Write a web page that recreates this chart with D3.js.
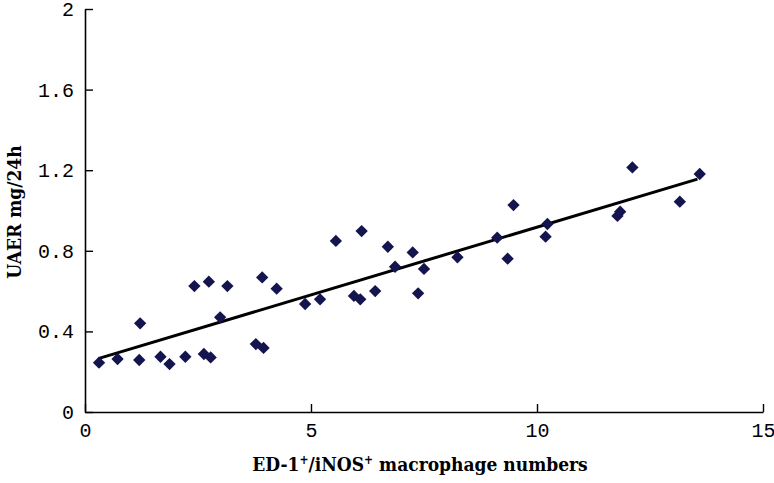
<!DOCTYPE html>
<html>
<head>
<meta charset="utf-8">
<script src="https://cdn.jsdelivr.net/npm/d3@7"></script>
<style>
body { margin: 0; background: #fff; }
</style>
</head>
<body>
<script>
// macrophage numbers (x) and UAER (y)
let xVals = [0.31, 0.72, 1.22, 1.20, 1.67, 1.87, 2.22, 2.42, 2.63, 2.78, 2.74, 3.15, 2.99,
	3.78, 3.95, 3.92, 4.24, 4.87, 5.20, 5.55, 6.12, 5.95, 6.09, 6.42, 6.70, 6.86, 7.25,
	7.37, 7.50, 8.24, 9.12, 9.35, 9.48, 10.23, 10.19, 11.84, 11.78, 12.11, 13.16, 13.60];
let yVals = [0.245, 0.263, 0.44, 0.258, 0.274, 0.238, 0.274, 0.625, 0.288, 0.271, 0.647, 0.625, 0.47,
	0.337, 0.318, 0.668, 0.612, 0.536, 0.559, 0.849, 0.898, 0.576, 0.559, 0.60, 0.82, 0.721, 0.792,
	0.589, 0.71, 0.768, 0.865, 0.761, 1.027, 0.933, 0.87, 0.994, 0.973, 1.214, 1.044, 1.181];

// trend line end points
let trendX = [0.31, 13.55];
let trendY = [0.266, 1.156];

let xTicks = [0, 5, 10, 15];
let yTicks = [0, 0.4, 0.8, 1.2, 1.6, 2];

let svg = d3.select("body").append("svg")
	.attr("width", 774)
	.attr("height", 483);

let margin = { top: 9, right: 11, bottom: 71, left: 85 };
let width = 774, height = 483;
let innerWidth = width - margin.left - margin.right;
let innerHeight = height - margin.top - margin.bottom;

let scaleX = d3.scaleLinear().domain([0, 15]).range([0, innerWidth]);
let scaleY = d3.scaleLinear().domain([0, 2]).range([innerHeight, 0]);

let g = svg.append("g")
	.attr("transform", `translate(${margin.left}, ${margin.top})`);

let tickFont = "'Liberation Mono', 'DejaVu Sans Mono', monospace";

// y axis, ticks point inward
let yAxis = d3.axisLeft(scaleY).tickValues(yTicks).tickSize(0).tickPadding(11)
	.tickFormat(d => d === 0 || d === 2 ? d3.format("d")(d) : d3.format(".1f")(d));
let yG = g.append("g").call(yAxis)
	.attr("font-family", tickFont)
	.attr("font-size", 20);
yG.select(".domain").attr("stroke", "#000").attr("stroke-width", 1.6);
yG.selectAll(".tick line").remove();
yG.selectAll(".tick").append("line")
	.attr("x1", 0).attr("x2", 8).attr("stroke", "#000").attr("stroke-width", 1.4);
yG.selectAll("text").attr("fill", "#000");

// x axis, ticks point up
let xAxis = d3.axisBottom(scaleX).tickValues(xTicks).tickSize(0).tickPadding(11);
let xG = g.append("g")
	.attr("transform", `translate(0, ${innerHeight})`)
	.call(xAxis)
	.attr("font-family", tickFont)
	.attr("font-size", 20);
xG.select(".domain").attr("stroke", "#000").attr("stroke-width", 1.6);
xG.selectAll(".tick line").remove();
xG.selectAll(".tick").append("line")
	.attr("y1", 0).attr("y2", -8).attr("stroke", "#000").attr("stroke-width", 1.4);
xG.selectAll("text").attr("fill", "#000");

// axis titles
let titleFont = "'DejaVu Serif', 'Liberation Serif', serif";
let xTitle = svg.append("text")
	.attr("x", margin.left + innerWidth / 2 - 4)
	.attr("y", 471)
	.attr("text-anchor", "middle")
	.attr("font-family", titleFont)
	.attr("font-weight", "bold")
	.attr("font-stretch", "condensed")
	.attr("font-size", 19)
	.attr("fill", "#000");
xTitle.append("tspan").text("ED-1");
xTitle.append("tspan").attr("baseline-shift", "super").attr("font-size", 12).text("+");
xTitle.append("tspan").text("/iNOS");
xTitle.append("tspan").attr("baseline-shift", "super").attr("font-size", 12).text("+");
xTitle.append("tspan").text(" macrophage numbers");

svg.append("text")
	.attr("transform", "translate(21, 212) rotate(-90)")
	.attr("text-anchor", "middle")
	.attr("font-family", titleFont)
	.attr("font-weight", "bold")
	.attr("font-stretch", "condensed")
	.attr("font-size", 19)
	.attr("fill", "#000")
	.text("UAER mg/24h");

// trend line
let line = d3.line()
	.x(d => scaleX(d[0]))
	.y(d => scaleY(d[1]));
g.append("path")
	.datum(d3.zip(trendX, trendY))
	.attr("d", line)
	.attr("fill", "none")
	.attr("stroke", "#000")
	.attr("stroke-width", 3);

// points as diamonds
let diamond = d3.symbol().type(d3.symbolSquare).size(76);
g.selectAll(".pt")
	.data(d3.zip(xVals, yVals))
	.enter().append("path")
	.attr("class", "pt")
	.attr("d", diamond)
	.attr("transform", d => `translate(${scaleX(d[0])}, ${scaleY(d[1])}) rotate(45)`)
	.attr("fill", "#14144e");
</script>
</body>
</html>
